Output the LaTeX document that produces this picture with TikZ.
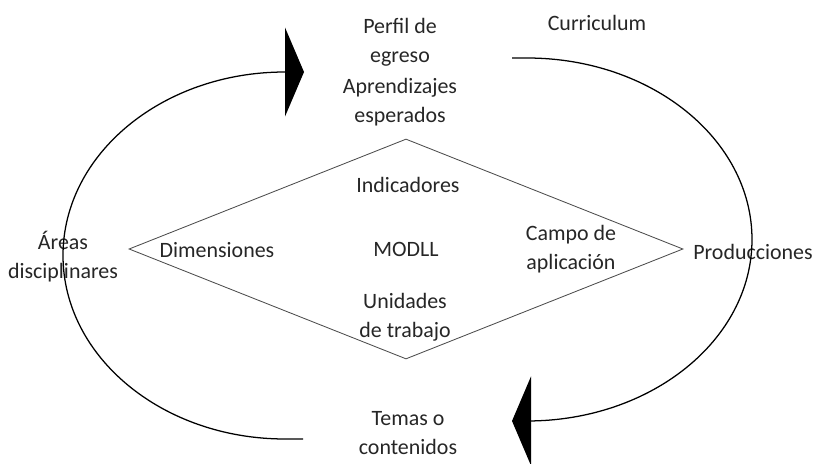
\documentclass[tikz,border=0pt]{standalone}
\usepackage{fontspec}
\setmainfont{Carlito}
\usetikzlibrary{arrows.meta, shapes.geometric}
\newcommand{\cyclefont}{\fontsize{15.6}{20.6}\selectfont}

\begin{document}
\begin{tikzpicture}[
  every node/.style={font=\cyclefont, text=black!85},
  txt/.style={align=center, inner sep=0pt},
  cyclearc/.style={black, line width=0.9pt, -{Triangle[length=0.475cm, width=2.225cm]}}
]
\useasboundingbox (0,0) rectangle (20.4,11.6);

% Central diamond
\node[diamond, draw=black!70, line width=0.6pt, minimum width=13.85cm, minimum height=5.5cm, inner sep=0pt] (modll) at (10.15,5.375) {MODLL};

% Texts inside the diamond
\node[txt] (indic) at (10.2,6.975) {Indicadores};
\node[txt] (dimens) at (5.425,5.35) {Dimensiones};
\node[txt] (campo) at (14.275,5.375) {Campo de\\aplicación};
\node[txt] (unid) at (10.125,3.675) {Unidades\\de trabajo};

% Texts around the cycle
\node[txt] (perfil) at (10.0,10.55) {Perfil de\\egreso};
\node[txt] (aprend) at (10.0,9.05) {Aprendizajes\\esperados};
\node[txt] (curr) at (14.925,11.025) {Curriculum};
\node[txt] (produc) at (18.825,5.3) {Producciones};
\node[txt] (areas) at (1.575,5.175) {Áreas\\disciplinares};
\node[txt] (temas) at (10.2,0.775) {Temas o\\contenidos};

% Ends of the two arcs
\coordinate (lstart) at (7.575,0.625);
\coordinate (lbot) at (7.125,0.625);
\coordinate (ltip) at (7.6,9.8);
\coordinate (rstart) at (12.8,10.15);
\coordinate (rtop) at (13.175,10.15);
\coordinate (rtip) at (12.8,1.075);

% Left arc (upwards)
\draw[cyclearc] (lstart) -- (lbot) arc[start angle=270, end angle=90, x radius=5.55cm, y radius=4.5875cm] -- (ltip);

% Right arc (downwards)
\draw[cyclearc] (rstart) -- (rtop) arc[start angle=90, end angle=-90, x radius=5.625cm, y radius=4.5375cm] -- (rtip);

\end{tikzpicture}
\end{document}
